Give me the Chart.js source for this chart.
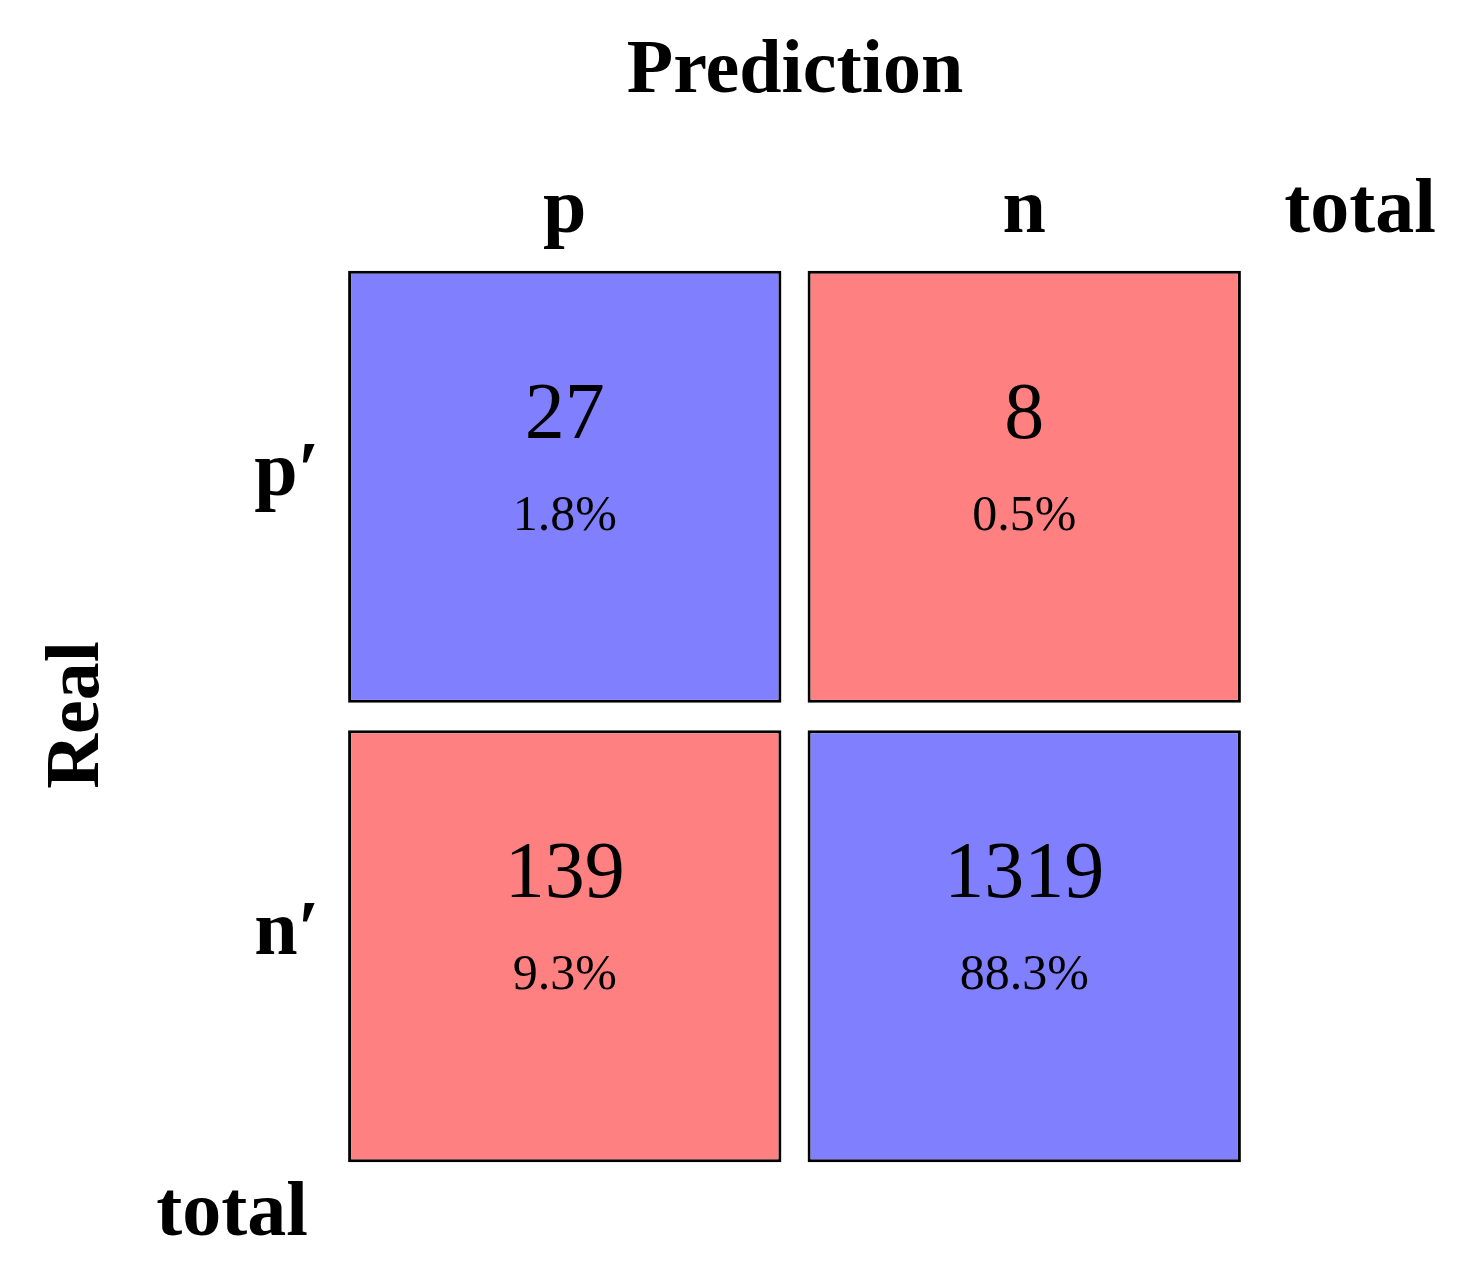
<!DOCTYPE html>
<html>
<head>
<meta charset="utf-8">
<script src="https://cdn.jsdelivr.net/npm/chart.js@4"></script>
<style>
  html, body { margin: 0; padding: 0; background: #fff; }
  #wrap { width: 1466px; height: 1284px; }
</style>
</head>
<body>
<div id="wrap"><canvas id="cm"></canvas></div>
<script>
// confusion matrix data
const predLabels = ['p', 'n'];
const realLabels = ['p\u2032', 'n\u2032'];
const countsRowP = [27, 8];
const countsRowN = [139, 1319];
const pctRowP = ['1.8%', '0.5%'];
const pctRowN = ['9.3%', '88.3%'];

const BLUE = '#8080ff';
const RED = '#ff8080';
const GAP = 0.03; // half gap between rows, in row units
const SERIF = '"Liberation Serif", "DejaVu Serif", serif';

// row 1 = top (p'), row 0 = bottom (n')
function rowRange(row) { return [row + GAP, row + 1 - GAP]; }

const rows = [
    { counts: countsRowP, pcts: pctRowP, row: 1, colors: [BLUE, RED] },
    { counts: countsRowN, pcts: pctRowN, row: 0, colors: [RED, BLUE] }
];

const labelPlugin = {
    id: 'cmLabels',
    afterDatasetsDraw(chart) {
        const { ctx, scales: { x, y } } = chart;
        ctx.save();
        ctx.fillStyle = '#000';
        ctx.textAlign = 'center';
        ctx.textBaseline = 'middle';

        // cell texts
        rows.forEach(r => {
            r.counts.forEach((c, i) => {
                const cx = x.getPixelForValue(i);
                const cy = y.getPixelForValue(r.row + 0.5);
                ctx.font = '80px ' + SERIF;
                ctx.fillText(String(c), cx, cy - 70);
                ctx.font = '50px ' + SERIF;
                ctx.fillText(r.pcts[i], cx, cy + 30);
            });
        });

        // column headers
        ctx.font = 'bold 78px ' + SERIF;
        predLabels.forEach((l, i) => ctx.fillText(l, x.getPixelForValue(i), 212));
        ctx.fillText('total', 1360, 212);

        // row headers
        realLabels.forEach((l, i) => {
            ctx.fillText(l, 287, y.getPixelForValue(1.5 - i) - 12);
        });
        ctx.fillText('total', 232, 1215);

        // titles
        ctx.font = 'bold 76px ' + SERIF;
        ctx.fillText('Prediction', 795, 72);
        ctx.translate(78, 715);
        ctx.rotate(-Math.PI / 2);
        ctx.fillText('Real', 0, 0);
        ctx.restore();
    }
};

new Chart(document.getElementById('cm'), {
    type: 'bar',
    data: {
        labels: predLabels,
        datasets: rows.map(r => ({
            label: realLabels[1 - r.row],
            data: r.counts.map(() => rowRange(r.row)),
            backgroundColor: r.colors,
            borderColor: '#000',
            borderWidth: 3,
            borderSkipped: false,
            grouped: false,
            categoryPercentage: 1,
            barPercentage: 0.943
        }))
    },
    options: {
        responsive: true,
        maintainAspectRatio: false,
        animation: false,
        layout: { padding: { left: 335, right: 212, top: 257, bottom: 108 } },
        plugins: { legend: { display: false }, tooltip: { enabled: false } },
        scales: {
            x: { display: false },
            y: { display: false, min: 0, max: 2 }
        }
    },
    plugins: [labelPlugin]
});
</script>
</body>
</html>
